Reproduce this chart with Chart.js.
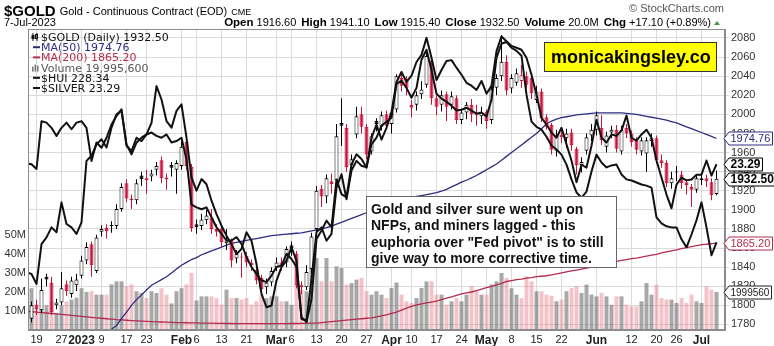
<!DOCTYPE html>
<html>
<head>
<meta charset="utf-8">
<title>$GOLD Daily</title>
<script src="https://cdn.jsdelivr.net/npm/chart.js@4.4.0/dist/chart.umd.min.js"></script>
<style>
  html, body { margin: 0; padding: 0; background: #fff; }
  canvas { display: block; }
</style>
</head>
<body>
<canvas id="mycanvas" width="774" height="346"></canvas>
<script>
// sessions are numbered by trading day; index 0 = 19-Dec-2022, first row starts at 15-Dec-2022
var firstSession = -2;
var lastDate = '7-Jul-2023';

var opens = [
  1808, 1786, 1801, 1795, 1830, 1824, 1800, 1803, 1822, 1812,
  1821, 1831, 1847, 1864, 1836, 1877, 1881, 1884, 1883, 1901,
  1928, 1912, 1910, 1936, 1933, 1935, 1942, 1952, 1934, 1947,
  1942, 1946, 1971, 1945, 1885, 1883, 1889, 1892, 1880, 1880,
  1865, 1868, 1849, 1851, 1852, 1845, 1837, 1829, 1819, 1824,
  1840, 1845, 1845, 1863, 1854, 1821, 1819, 1838, 1880, 1922,
  1914, 1930, 1931, 1991, 1986, 1947, 1979, 2000, 1987, 1961,
  1993, 1987, 2000, 1990, 2005, 2038, 2037, 2010, 2010, 2021,
  2031, 2056, 2017, 2010, 2021, 2010, 2017, 1994, 2002, 2010,
  2000, 1998, 2003, 1994, 2028, 2040, 2055, 2027, 2033, 2035,
  2040, 2038, 2015, 2024, 1997, 1989, 1962, 1979, 1975, 1981,
  1964, 1947, 1962, 1978, 1984, 1986, 1966, 1981, 1984, 1961,
  1986, 1980, 1973, 1961, 1959, 1972, 1975, 1952, 1949, 1928,
  1940, 1937, 1929, 1924, 1921, 1931, 1933, 1929, 1916.6
];
var highs = [
  1810, 1804, 1806, 1828, 1833, 1830, 1807, 1835, 1826, 1830,
  1833, 1852, 1866, 1867, 1874, 1884, 1885, 1888, 1906, 1928,
  1932, 1916, 1932, 1940, 1942, 1942, 1950, 1956, 1938, 1950,
  1952, 1972, 1975, 1948, 1890, 1896, 1900, 1901, 1885, 1882,
  1880, 1870, 1858, 1855, 1856, 1848, 1840, 1832, 1828, 1840,
  1850, 1850, 1862, 1867, 1857, 1825, 1842, 1876, 1925, 1926,
  1937, 1938, 1990, 2017, 1990, 1958, 2008, 2008, 1990, 1980,
  1996, 2003, 2004, 2006, 2042, 2045, 2040, 2015, 2024, 2035,
  2065, 2059, 2020, 2025, 2024, 2024, 2020, 2006, 2013, 2016,
  2010, 2008, 2005, 2030, 2042, 2083, 2062, 2042, 2048, 2052,
  2045, 2041, 2030, 2027, 2000, 1991, 1984, 1986, 1985, 1985,
  1966, 1955, 1980, 1990, 2003, 1999, 1982, 1988, 1989, 1988,
  1990, 1983, 1976, 1976, 1976, 1980, 1978, 1958, 1952, 1940,
  1946, 1941, 1932, 1927, 1937, 1938, 1937, 1933, 1941.1
];
var lows = [
  1776, 1782, 1790, 1792, 1820, 1790, 1796, 1800, 1810, 1808,
  1815, 1828, 1843, 1830, 1834, 1872, 1870, 1876, 1880, 1898,
  1908, 1901, 1906, 1925, 1917, 1930, 1936, 1928, 1921, 1935,
  1917, 1942, 1942, 1877, 1875, 1879, 1885, 1875, 1872, 1861,
  1858, 1840, 1844, 1829, 1840, 1836, 1822, 1813, 1812, 1820,
  1836, 1836, 1840, 1852, 1818, 1812, 1816, 1834, 1870, 1903,
  1907, 1917, 1927, 1967, 1940, 1938, 1975, 1980, 1953, 1958,
  1982, 1983, 1985, 1980, 2002, 2024, 2020, 1997, 2004, 2016,
  2028, 2010, 1999, 2003, 1993, 2005, 1990, 1990, 1995, 1992,
  1988, 1990, 1985, 1990, 2020, 2035, 2020, 2022, 2030, 2028,
  2027, 2016, 2012, 1992, 1984, 1958, 1956, 1970, 1965, 1962,
  1937, 1939, 1958, 1972, 1978, 1968, 1960, 1975, 1960, 1958,
  1975, 1966, 1958, 1957, 1940, 1966, 1948, 1944, 1924, 1922,
  1930, 1922, 1916, 1903, 1918, 1926, 1924, 1910, 1915.4
];
var closes = [
  1787, 1800, 1796, 1816, 1827, 1793, 1803, 1818, 1815, 1826,
  1827, 1847, 1861, 1842, 1871, 1880, 1878, 1883, 1901, 1924,
  1912, 1910, 1928, 1932, 1931, 1938, 1946, 1933, 1932, 1944,
  1949, 1966, 1946, 1881, 1882, 1890, 1894, 1880, 1877, 1866,
  1868, 1847, 1854, 1850, 1845, 1842, 1826, 1817, 1824, 1836,
  1845, 1842, 1859, 1860, 1821, 1819, 1835, 1872, 1920, 1914,
  1933, 1927, 1977, 1988, 1945, 1953, 1998, 1987, 1958, 1977,
  1990, 1999, 1988, 2002, 2040, 2030, 2028, 2007, 2020, 2026,
  2061, 2017, 2008, 2020, 2008, 2019, 1994, 2002, 2010, 2000,
  1999, 2002, 1993, 2026, 2038, 2055, 2025, 2038, 2043, 2041,
  2031, 2022, 2024, 1996, 1987, 1963, 1978, 1976, 1980, 1968,
  1947, 1950, 1976, 1984, 1999, 1973, 1978, 1984, 1964, 1984,
  1980, 1971, 1963, 1973, 1973, 1975, 1952, 1949, 1928, 1933,
  1939, 1928, 1926, 1921, 1933, 1933, 1930, 1915.4, 1932.5
];
// volume in millions
var volumeM = [
  21, 22, 11, 11, 13, 15, 9, 13, 15, 16,
  17, 22, 20, 20.5, 18.6, 18.6, 18.6, 24, 25.6, 25.6,
  23, 24, 20.4, 19.5, 16.8, 20.4, 19.5, 22, 18.6, 14,
  20.4, 22, 24, 30, 15.5, 17.7, 17.7, 17.7, 16.8, 13.3,
  21.2, 16.8, 16.8, 16.0, 16.8, 13.3, 15.1, 18.6, 16.8, 17.7,
  17.7, 15.1, 15.1, 13.3, 23.9, 21.2, 20.4, 32.6, 37.9, 25.6,
  37.9, 25.6, 33.5, 32.6, 23.9, 24.7, 26.5, 27.4, 20.4, 18.6,
  20.4, 18.6, 16.8, 22.1, 25, 18.6, 15.1, 14.2, 16.8, 22.1,
  25.6, 25.6, 18.6, 18.6, 13.3, 15.1, 16.8, 15.1, 18.6, 23,
  20.4, 18.6, 18.6, 24, 25.6, 30, 27.4, 22, 18.6, 16.8,
  28.3, 25.6, 20.4, 20.4, 18.6, 18, 15.1, 16, 20.4, 22.1,
  23, 19.5, 23.9, 18.6, 17.7, 19.5, 17.7, 13.3, 17.7, 17.7,
  13.3, 12.4, 12.4, 15.1, 24.7, 18.6, 23.9, 16.8, 16, 16,
  14.2, 16.8, 14.2, 18.6, 15.1, 14.2, 23, 21.2, 19.9956
];
// MA(50) comes onto the chart at session 14
var ma50Start = 14;
var ma50 = [
  1769, 1775, 1779, 1786, 1793, 1800, 1806, 1811, 1816, 1821,
  1824, 1827, 1830, 1834, 1838, 1842, 1845, 1848, 1850, 1853,
  1855, 1857, 1859, 1861, 1863, 1865, 1866, 1867, 1868, 1869,
  1870, 1871, 1872, 1873, 1873.5, 1874, 1874.5, 1875, 1875.5, 1876,
  1877, 1878, 1879, 1880, 1881.5, 1883, 1885, 1887, 1889, 1891,
  1893, 1895, 1897, 1899, 1901, 1903, 1905, 1907, 1909, 1910.5,
  1912, 1913, 1914, 1915, 1916, 1917, 1918, 1919.5, 1921.5, 1924,
  1926.5, 1929, 1931, 1933.5, 1936, 1939, 1942, 1945, 1948, 1952,
  1956, 1960, 1964, 1968, 1972, 1976, 1980, 1985, 1990, 1993,
  1995, 1996.5, 1997.5, 1998.5, 1999.5, 2000, 2000.5, 2001, 2001.5, 2001.5,
  2001.5, 2001.5, 2001.5, 2001.5, 2001, 2000.5, 2000, 1999, 1998, 1997,
  1996, 1995, 1994, 1992.5, 1991, 1989, 1987, 1985, 1983, 1981,
  1979, 1977, 1974.76
];
var ma200 = [
  1794, 1793.5, 1793, 1792.5, 1792, 1791.5, 1791, 1790.5, 1790, 1789.5,
  1789, 1788.5, 1788, 1787.5, 1787, 1786.5, 1786, 1785.5, 1785, 1784.7,
  1784.4, 1784.1, 1783.8, 1783.5, 1783.2, 1783, 1782.8, 1782.6, 1782.4, 1782.2,
  1782, 1781.9, 1781.8, 1781.7, 1781.6, 1781.5, 1781.4, 1781.3, 1781.2, 1781.1,
  1781, 1781, 1780.9, 1780.9, 1780.8, 1780.8, 1780.8, 1780.8, 1780.8, 1780.8,
  1780.8, 1780.9, 1780.9, 1781, 1781, 1781.1, 1781.2, 1781.3, 1781.5, 1782,
  1782.5, 1783, 1783.5, 1784, 1784.5, 1785, 1785.5, 1786, 1786.5, 1787,
  1788, 1789, 1790, 1791.5, 1793, 1795, 1797, 1799, 1800.5, 1801.5,
  1802.5, 1803.5, 1804.5, 1806, 1807.5, 1809, 1810.5, 1812, 1813, 1814,
  1815.5, 1817, 1818.5, 1820, 1821.5, 1823, 1825, 1826, 1827, 1827.5,
  1828.5, 1829, 1830, 1830.5, 1831, 1832, 1833, 1834, 1835, 1836,
  1837, 1838, 1839, 1840, 1841, 1842, 1843, 1844, 1846, 1847,
  1848, 1849, 1849.5, 1850.5, 1851.5, 1852.5, 1853.5, 1855, 1856, 1857,
  1858, 1859.5, 1860.5, 1861.5, 1862.5, 1863.5, 1864, 1864.7, 1865.2
];
var hui = [
  217.8, 217.2, 213.7, 227.7, 230.1, 233.6, 231.9, 242.4, 234.8, 233.6,
  231.3, 235.4, 257.0, 258.8, 262.8, 264.6, 261.7, 268.7, 273.4, 274.6,
  262.8, 259.3, 263.4, 265.2, 266.3, 270.4, 283.3, 278.6, 271.0, 268.7,
  274.6, 276.9, 265.2, 251.2, 246.5, 250.6, 248.8, 243.0, 238.3, 234.2,
  230.7, 227.7, 224.2, 226.0, 231.9, 228.9, 220.7, 210.2, 205.5, 206.1,
  214.9, 219.6, 221.9, 226.6, 221.9, 201.4, 200.9, 215.4, 232.0, 233.6,
  228.9, 231.3, 247.6, 252.3, 243.5, 253.6, 257.0, 255.3, 254.7, 262.8,
  265.2, 269.4, 270.8, 272.2, 284.1, 285.2, 282.7, 279.2, 282.7, 292.6,
  296.1, 289.0, 280.6, 278.9, 277.8, 276.4, 274.7, 275.0, 275.7, 274.7,
  273.6, 274.0, 272.6, 278.5, 293.3, 298.2, 298.9, 296.8, 295.7, 294.0,
  280.3, 270.8, 269.0, 268.0, 265.5, 262.4, 261.0, 259.2, 255.7, 250.5,
  245.9, 244.1, 246.2, 253.3, 259.2, 256.4, 254.7, 255.4, 255.7, 252.2,
  250.5, 250.1, 249.4, 248.7, 248.3, 247.6, 237.1, 235.0, 234.0, 233.6,
  233.6, 229.4, 226.6, 231.1, 236.1, 242.4, 233.6, 223.8, 228.34
];
var silver = [
  23.31, 23.29, 23.19, 24.20, 24.17, 24.06, 23.89, 24.06, 24.17, 24.03,
  24.17, 24.20, 24.06, 23.36, 23.75, 23.64, 23.85, 24.13, 24.31, 24.45,
  23.68, 23.57, 23.85, 23.78, 23.92, 23.96, 23.89, 23.85, 23.92, 23.75,
  23.78, 23.85, 23.39, 22.44, 22.38, 22.34, 22.38, 22.17, 21.96, 21.82,
  21.68, 21.68, 21.75, 21.61, 21.33, 21.12, 20.97, 20.84, 20.80, 20.94,
  21.12, 21.15, 21.40, 21.29, 21.12, 20.06, 19.96, 20.44, 21.71, 21.89,
  22.10, 21.96, 22.97, 22.66, 22.59, 23.29, 23.50, 23.40, 23.22, 23.85,
  24.13, 23.81, 24.06, 24.40, 25.03, 25.24, 25.03, 25.16, 25.45, 25.60,
  25.96, 25.54, 25.07, 25.28, 25.47, 25.49, 25.33, 25.18, 25.01, 24.95,
  24.86, 25.05, 24.78, 24.95, 25.68, 25.99, 25.89, 25.79, 25.75, 25.71,
  25.54, 25.18, 24.76, 24.27, 24.13, 23.96, 23.85, 24.06, 23.71, 23.37,
  22.91, 23.28, 23.22, 23.68, 24.23, 23.85, 23.75, 23.92, 23.89, 24.00,
  24.32, 23.85, 23.79, 23.92, 24.02, 23.85, 23.37, 23.01, 22.65, 22.36,
  22.86, 23.01, 22.95, 22.97, 23.07, 23.07, 23.37, 23.05, 23.29
];

var tickSessions = [0, 5, 9, 13, 18, 22, 29, 32, 37, 42, 48, 51, 56, 61, 66, 71, 75, 80, 85, 90, 95, 100, 105, 112, 119, 124, 128, 133];
var tickLabels = ['19', '27', '2023', '9', '17', '23', 'Feb', '6', '13', '21', 'Mar', '6', '13', '20', '27', 'Apr', '10', '17', '24', 'May', '8', '15', '22', 'Jun', '12', '20', '26', 'Jul'];
var boldLabels = ['2023', 'Feb', 'Mar', 'Apr', 'May', 'Jun', 'Jul'];
var priceTicks = [1780, 1800, 1820, 1840, 1860, 1880, 1900, 1920, 1940, 1960, 1980, 2000, 2020, 2040, 2060, 2080];
var volumeTicks = [10, 20, 30, 40, 50];

var noteLines = [
  'Gold and silver sure went up on',
  'NFPs, and miners lagged - this',
  'euphoria over "Fed pivot" is to still',
  'give way to more corrective time.'
];

var SANS = '"Liberation Sans", Arial, sans-serif';
var RED = '#c8143c';
var NAVY = '#2c2c82';
var MAROON = '#b32d4f';

function points(arr, start) {
  return arr.map(function (v, i) { return { x: i + start, y: v }; });
}

// up day = close not below previous close
var upDay = closes.map(function (c, i) {
  return c >= (i > 0 ? closes[i - 1] : opens[i]);
});
var candleColor = upDay.map(function (u) { return u ? '#000' : RED; });
var bodyFill = closes.map(function (c, i) { return c > opens[i] ? '#fff' : candleColor[i]; });
var volumeColor = upDay.map(function (u) { return u ? 'rgba(110,110,110,0.6)' : 'rgba(230,120,135,0.45)'; });

var bodies = opens.map(function (o, i) { return { x: i + firstSession, y: [o, closes[i]] }; });
var wicks = lows.map(function (l, i) { return { x: i + firstSession, y: [l, highs[i]] }; });

function fmt2(v) { return v.toFixed(2); }
function last(arr) { return arr[arr.length - 1]; }

function drawLegend(ctx, a) {
  var rows = [
    ['$GOLD (Daily) ' + fmt2(last(closes)), '#111', 'candle'],
    ['MA(50) ' + fmt2(last(ma50)), NAVY, 'dash'],
    ['MA(200) ' + fmt2(last(ma200)), MAROON, 'dash'],
    ['Volume ' + Math.round(last(volumeM) * 1e6).toLocaleString('en-US'), '#555', 'bars'],
    ['$HUI ' + fmt2(last(hui)), '#111', 'dash'],
    ['$SILVER ' + fmt2(last(silver)), '#111', 'dash']
  ];
  ctx.font = '11px "DejaVu Sans", sans-serif';
  ctx.textBaseline = 'alphabetic';
  rows.forEach(function (r, i) {
    var y = 41 + i * 10.2;
    ctx.fillStyle = r[1];
    if (r[2] === 'dash') {
      ctx.fillRect(33, y - 5, 7, 2);
    } else if (r[2] === 'bars') {
      ctx.fillStyle = '#777';
      ctx.fillRect(32, y - 5, 1.5, 5);
      ctx.fillRect(34.5, y - 7, 1.5, 7);
      ctx.fillRect(37, y - 6, 1.5, 6);
      ctx.fillStyle = r[1];
    } else {
      ctx.fillRect(32.5, y - 8, 1, 8);
      ctx.fillRect(31.5, y - 6, 3, 4);
      ctx.fillRect(36.5, y - 8, 1, 8);
      ctx.strokeStyle = '#111';
      ctx.lineWidth = 1;
      ctx.strokeRect(35.5, y - 6.5, 2, 4);
    }
    ctx.fillText(r[0], 41, y);
  });
}

function drawNotes(ctx) {
  ctx.fillStyle = '#ffff00';
  ctx.fillRect(544, 42, 173, 30);
  ctx.strokeStyle = '#333';
  ctx.lineWidth = 1;
  ctx.strokeRect(544.5, 42.5, 172, 29);
  ctx.fillStyle = '#000';
  ctx.font = 'bold 18px ' + SANS;
  ctx.textBaseline = 'alphabetic';
  ctx.fillText('monicakingsley.co', 551, 63);

  ctx.fillStyle = '#fff';
  ctx.fillRect(366, 196, 251, 72);
  ctx.strokeStyle = '#666';
  ctx.strokeRect(366.5, 196.5, 250, 71);
  ctx.fillStyle = '#111';
  ctx.font = 'bold 14px ' + SANS;
  noteLines.forEach(function (t, i) { ctx.fillText(t, 371, 214 + i * 16.3); });
}

function drawHeader(ctx) {
  var n = closes.length - 1;
  ctx.save();
  ctx.textBaseline = 'alphabetic';
  ctx.textAlign = 'left';
  ctx.fillStyle = '#000';
  ctx.font = 'bold 15px ' + SANS;
  ctx.fillText('$GOLD', 4, 16);
  var x = 4 + ctx.measureText('$GOLD').width + 4;
  ctx.font = '11px ' + SANS;
  ctx.fillText('Gold - Continuous Contract (EOD)', x, 15);
  x += ctx.measureText('Gold - Continuous Contract (EOD)').width + 4;
  ctx.font = '9px ' + SANS;
  ctx.fillText('CME', x, 15);
  ctx.font = '11px ' + SANS;
  ctx.fillText(lastDate, 4, 26);

  // quote line: [text, font, gap after]
  var chg = closes[n] - closes[n - 1];
  var pct = chg / closes[n - 1] * 100;
  var sign = chg >= 0 ? '+' : '';
  var B = 'bold 11.5px ' + SANS, R = '11px ' + SANS;
  var runs = [
    ['Open', B, 3], [fmt2(opens[n]), R, 5],
    ['High', B, 3], [fmt2(highs[n]), R, 5],
    ['Low', B, 3], [fmt2(lows[n]), R, 5],
    ['Close', B, 3], [fmt2(closes[n]), R, 5],
    ['Volume', B, 3], [volumeM[n].toFixed(1) + 'M', R, 5],
    ['Chg', B, 3], [sign + fmt2(chg) + ' (' + sign + fmt2(pct) + '%)', R, 0]
  ];
  var w = 0;
  runs.forEach(function (r) { ctx.font = r[1]; w += ctx.measureText(r[0]).width + r[2]; });
  x = 711 - w;
  runs.forEach(function (r) { ctx.font = r[1]; ctx.fillText(r[0], x, 26); x += ctx.measureText(r[0]).width + r[2]; });
  ctx.fillStyle = '#3a9a3a';
  ctx.beginPath();
  ctx.moveTo(714, 25); ctx.lineTo(720, 25); ctx.lineTo(717, 21); ctx.closePath();
  ctx.fill();

  ctx.fillStyle = '#555';
  ctx.font = '11px ' + SANS;
  ctx.textAlign = 'right';
  ctx.fillText('\u00a9 StockCharts.com', 724, 12);
  ctx.restore();
}

function priceTag(ctx, y, text, color, font, maxW) {
  ctx.font = font;
  var w = ctx.measureText(text).width;
  if (maxW) {
    while (w > maxW && text.length > 1) { text = text.slice(0, -1); w = ctx.measureText(text).width; }
  }
  y = Math.round(y) + 0.5;
  var x0 = 724, x1 = 729, x2 = Math.round(x1 + w + 3) + 0.5, h = 6.5;
  ctx.beginPath();
  ctx.moveTo(x0, y); ctx.lineTo(x1, y - h); ctx.lineTo(x2, y - h);
  ctx.lineTo(x2, y + h); ctx.lineTo(x1, y + h); ctx.closePath();
  ctx.fillStyle = '#fff';
  ctx.fill();
  ctx.strokeStyle = color;
  ctx.lineWidth = 1;
  ctx.stroke();
  ctx.fillStyle = color;
  ctx.textBaseline = 'middle';
  ctx.textAlign = 'left';
  ctx.fillText(text, x1 + 1.5, y + 0.5);
}

var decor = {
  id: 'decor',
  beforeDraw: function (chart) {
    var ctx = chart.ctx;
    ctx.save();
    ctx.fillStyle = '#fff';
    ctx.fillRect(0, 0, chart.width, chart.height);
    ctx.restore();
  },
  afterDatasetsDraw: function (chart) {
    var ctx = chart.ctx, a = chart.chartArea;
    ctx.save();
    ctx.strokeStyle = '#8c8c8c';
    ctx.lineWidth = 1;
    ctx.strokeRect(a.left + 0.5, a.top + 0.5, a.right - a.left - 1, a.bottom - a.top - 1);
    drawLegend(ctx, a);
    drawNotes(ctx);
    ctx.restore();
  },
  afterDraw: function (chart) {
    var ctx = chart.ctx, s = chart.scales;
    var R = '11px ' + SANS, B = 'bold 12px ' + SANS;
    drawHeader(ctx);
    ctx.save();
    priceTag(ctx, s.yVol.getPixelForValue(last(volumeM)), String(Math.round(last(volumeM) * 1e6)), '#222', '10px ' + SANS, 39.5);
    priceTag(ctx, s.y.getPixelForValue(last(ma200)), fmt2(last(ma200)), MAROON, R);
    priceTag(ctx, s.y.getPixelForValue(last(ma50)), fmt2(last(ma50)), NAVY, R);
    priceTag(ctx, s.ySil.getPixelForValue(last(silver)), fmt2(last(silver)), '#000', B);
    priceTag(ctx, s.y.getPixelForValue(last(closes)), fmt2(last(closes)), '#000', B);
    ctx.restore();
  }
};

var ctx = document.getElementById('mycanvas').getContext('2d');

new Chart(ctx, {
  type: 'bar',
  data: {
    datasets: [
      {
        type: 'line', label: '$SILVER', data: points(silver, firstSession), yAxisID: 'ySil',
        borderColor: '#111', borderWidth: 2, pointRadius: 0, borderJoinStyle: 'round', order: 1, clip: 0
      },
      {
        type: 'line', label: '$HUI', data: points(hui, firstSession), yAxisID: 'yHui',
        borderColor: '#111', borderWidth: 2, pointRadius: 0, borderJoinStyle: 'round', order: 2, clip: 0
      },
      {
        label: 'candle', data: bodies, yAxisID: 'y',
        backgroundColor: bodyFill, borderColor: candleColor, borderWidth: 1, borderSkipped: false,
        barThickness: 4, minBarLength: 1, grouped: false, inflateAmount: 0, order: 3, clip: 0
      },
      {
        label: 'wick', data: wicks, yAxisID: 'y',
        backgroundColor: candleColor, borderWidth: 0, barThickness: 1, grouped: false, inflateAmount: 0, order: 4, clip: 0
      },
      {
        type: 'line', label: 'MA(50)', data: points(ma50, ma50Start), yAxisID: 'y',
        borderColor: NAVY, borderWidth: 1.3, pointRadius: 0, order: 5, clip: 0
      },
      {
        type: 'line', label: 'MA(200)', data: points(ma200, firstSession), yAxisID: 'y',
        borderColor: MAROON, borderWidth: 1.3, pointRadius: 0, order: 6, clip: 0
      },
      {
        label: 'Volume', data: points(volumeM, firstSession), yAxisID: 'yVol',
        backgroundColor: volumeColor, borderWidth: 0, barThickness: 4, grouped: false, inflateAmount: 0, order: 7, clip: 0
      }
    ]
  },
  options: {
    responsive: false,
    animation: false,
    devicePixelRatio: 1,
    events: [],
    layout: { padding: { top: 29, left: 0, right: 0, bottom: 0 } },
    plugins: { legend: { display: false }, tooltip: { enabled: false } },
    scales: {
      x: {
        type: 'linear', min: -1.7, max: 137.7, offset: false,
        grid: { color: '#dadada', drawTicks: false, offset: false },
        border: { color: '#8c8c8c' },
        afterBuildTicks: function (s) { s.ticks = tickSessions.map(function (v) { return { value: v }; }); },
        afterFit: function (s) { s.height = 16; },
        ticks: {
          autoSkip: false, maxRotation: 0, padding: 3, color: '#222',
          font: function (c) {
            var bold = boldLabels.indexOf(tickLabels[c.index]) >= 0;
            return bold ? { family: SANS, size: 12, weight: 'bold' } : { family: SANS, size: 11 };
          },
          callback: function (v, i) { return tickLabels[i]; }
        }
      },
      y: {
        position: 'right', min: 1774.2, max: 2089.4,
        grid: { color: '#dadada', tickLength: 4 },
        border: { color: '#8c8c8c' },
        afterBuildTicks: function (s) { s.ticks = priceTicks.map(function (v) { return { value: v }; }); },
        afterFit: function (s) { s.width = 49; },
        ticks: { padding: 2, color: '#333', font: { family: SANS, size: 11 }, callback: function (v) { return String(v); } }
      },
      yVol: {
        position: 'left', min: 0, max: 158.4,
        grid: { display: false, drawTicks: false, tickLength: 0 },
        border: { color: '#8c8c8c' },
        afterBuildTicks: function (s) { s.ticks = volumeTicks.map(function (v) { return { value: v }; }); },
        afterFit: function (s) { s.width = 28; },
        ticks: { padding: 2, color: '#333', font: { family: SANS, size: 11 }, callback: function (v) { return v + 'M'; } }
      },
      yHui: { display: false, min: 197.5, max: 303.4 },
      ySil: { display: false, min: 19.79, max: 26.147 }
    }
  },
  plugins: [decor]
});
</script>
</body>
</html>
